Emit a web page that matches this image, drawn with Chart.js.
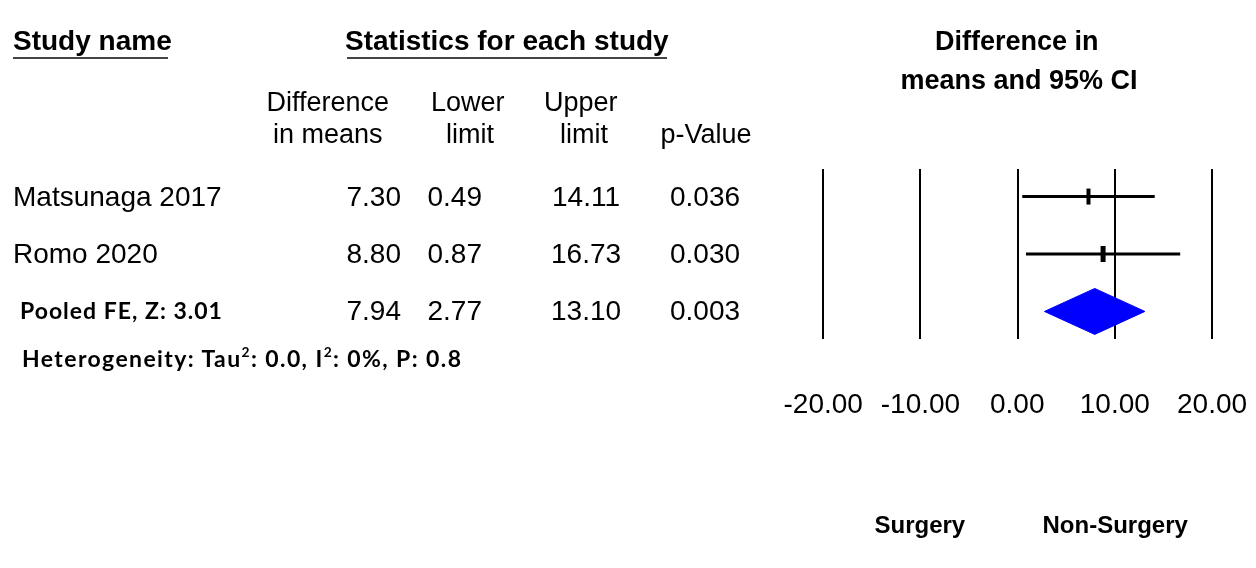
<!DOCTYPE html>
<html>
<head>
<meta charset="utf-8">
<script src="https://cdn.jsdelivr.net/npm/chart.js@4"></script>
<style>
  html, body { margin: 0; padding: 0; background: #fff; }
  #page { position: relative; width: 1256px; height: 568px; overflow: hidden; font-family: "Liberation Sans", Arial, sans-serif; color: #000; }
  #plot { position: absolute; left: 0; top: 0; }
  .t { position: absolute; white-space: nowrap; line-height: 34px; height: 34px; }
  .b { font-weight: bold; }
  .cal { font-family: Lato, "Open Sans", sans-serif; font-weight: bold; }
  .ul { position: absolute; height: 2px; background: #444; }
  sup { font-size: 0.6em; line-height: 0; vertical-align: 0.7em; }
</style>
</head>
<body>
<div id="page">
  <canvas id="plot" width="1256" height="568"></canvas>
</div>
<script>
// 研究数据
const studyNames = ['Matsunaga 2017', 'Romo 2020'];
const meanDiff = [7.30, 8.80];
const lowerLimit = [0.49, 0.87];
const upperLimit = [14.11, 16.73];
const pValues = ['0.036', '0.030'];
// 合并效应 (FE)
const pooledLabel = 'Pooled FE, Z: 3.01';
const pooledMean = 7.94;
const pooledLower = 2.77;
const pooledUpper = 13.10;
const pooledP = '0.003';
const heterogeneity = 'Heterogeneity: Tau<sup>2</sup>: 0.0, I<sup>2</sup>: 0%, P: 0.8';
// 坐标轴
const xTicks = [-20, -10, 0, 10, 20];
const groupLabels = ['Surgery', 'Non-Surgery'];

const page = document.getElementById('page');

// 放一段文字, cy 为垂直中心 (align: left / center)
function addText(html, x, cy, opts) {
    opts = opts || {};
    const el = document.createElement('div');
    el.className = 't ' + (opts.cls || '');
    el.innerHTML = html;
    el.style.fontSize = (opts.size || 28) + 'px';
    if (opts.spacing) el.style.letterSpacing = opts.spacing + 'px';
    el.style.top = (cy - 17) + 'px';
    page.appendChild(el);
    if (opts.align === 'center') {
        el.style.left = (x - el.offsetWidth / 2) + 'px';
    } else {
        el.style.left = x + 'px';
    }
    return el;
}

function addUnderline(x1, x2, y) {
    const el = document.createElement('div');
    el.className = 'ul';
    el.style.left = x1 + 'px';
    el.style.width = (x2 - x1) + 'px';
    el.style.top = y + 'px';
    page.appendChild(el);
}

// 表头
addText('Study name', 13, 41, { cls: 'b', size: 28 });
addUnderline(13, 168, 57);
addText('Statistics for each study', 507, 41, { cls: 'b', size: 28, align: 'center' });
addUnderline(347, 667, 57);
addText('Difference in', 1017, 41, { cls: 'b', size: 27, align: 'center' });
addText('means and 95% CI', 1019, 80, { cls: 'b', size: 27, align: 'center' });

addText('Difference', 328, 102, { size: 27, align: 'center' });
addText('in means', 328, 134, { size: 27, align: 'center' });
addText('Lower', 468, 102, { size: 27, align: 'center' });
addText('limit', 470, 134, { size: 27, align: 'center' });
addText('Upper', 581, 102, { size: 27, align: 'center' });
addText('limit', 584, 134, { size: 27, align: 'center' });
addText('p-Value', 706, 134, { size: 27, align: 'center' });

// 表格行
const rowY = [197, 254, 311];
const colX = [374, 455, 586, 705];
studyNames.forEach((name, i) => {
    addText(name, 13, rowY[i]);
    addText(meanDiff[i].toFixed(2), colX[0], rowY[i], { align: 'center' });
    addText(lowerLimit[i].toFixed(2), colX[1], rowY[i], { align: 'center' });
    addText(upperLimit[i].toFixed(2), colX[2], rowY[i], { align: 'center' });
    addText(pValues[i], colX[3], rowY[i], { align: 'center' });
});
const pr = studyNames.length;
addText(pooledLabel, 20, 310, { cls: 'cal', size: 23, spacing: 1 });
addText(pooledMean.toFixed(2), colX[0], rowY[pr], { align: 'center' });
addText(pooledLower.toFixed(2), colX[1], rowY[pr], { align: 'center' });
addText(pooledUpper.toFixed(2), colX[2], rowY[pr], { align: 'center' });
addText(pooledP, colX[3], rowY[pr], { align: 'center' });
addText(heterogeneity, 22, 358, { cls: 'cal', size: 23, spacing: 1.4 });

// 组别标签
addText(groupLabels[0], 920, 525, { cls: 'b', size: 24, align: 'center' });
addText(groupLabels[1], 1115, 525, { cls: 'b', size: 24, align: 'center' });

// 森林图
const ciSets = studyNames.map((name, i) => ({
    label: name,
    data: [{ x: lowerLimit[i], y: i }, { x: upperLimit[i], y: i }],
    showLine: true,
    borderColor: '#000',
    borderWidth: 3,
    pointRadius: 0
}));

const pointSet = {
    label: 'estimate',
    data: meanDiff.map((v, i) => ({ x: v, y: i })),
    pointStyle: 'line',
    rotation: 90,
    pointRadius: 8,
    borderColor: '#000',
    pointBorderWidth: [4, 5]
};

const DIAMOND_HALF = 0.4;
const diamondSet = {
    label: 'pooled',
    data: [
        { x: pooledLower, y: pr },
        { x: pooledMean, y: pr - DIAMOND_HALF },
        { x: pooledUpper, y: pr },
        { x: pooledMean, y: pr + DIAMOND_HALF },
        { x: pooledLower, y: pr }
    ],
    showLine: true,
    fill: 'shape',
    borderColor: '#0000ff',
    backgroundColor: '#0000ff',
    borderWidth: 1,
    pointRadius: 0,
    tension: 0
};

const chart = new Chart(document.getElementById('plot').getContext('2d'), {
    type: 'scatter',
    data: { datasets: [...ciSets, pointSet, diamondSet] },
    options: {
        responsive: false,
        animation: false,
        layout: { padding: { left: 823, right: 44, top: 169, bottom: 568 - 339 } },
        plugins: { legend: { display: false }, tooltip: { enabled: false } },
        scales: {
            x: {
                type: 'linear',
                min: xTicks[0],
                max: xTicks[xTicks.length - 1],
                afterBuildTicks: (s) => { s.ticks = xTicks.map(v => ({ value: v })); },
                afterFit: (s) => { s.height = 0; },
                grid: { color: '#000', lineWidth: 2, drawTicks: false },
                border: { display: false },
                ticks: { display: false }
            },
            y: {
                type: 'linear',
                display: false,
                reverse: true,
                min: -0.48,
                max: 2.48
            }
        }
    }
});

// 刻度文字 (位置取自 x 轴)
const xScale = chart.scales.x;
xTicks.forEach(v => {
    addText(v.toFixed(2), xScale.getPixelForValue(v), 404, { align: 'center' });
});
</script>
</body>
</html>
